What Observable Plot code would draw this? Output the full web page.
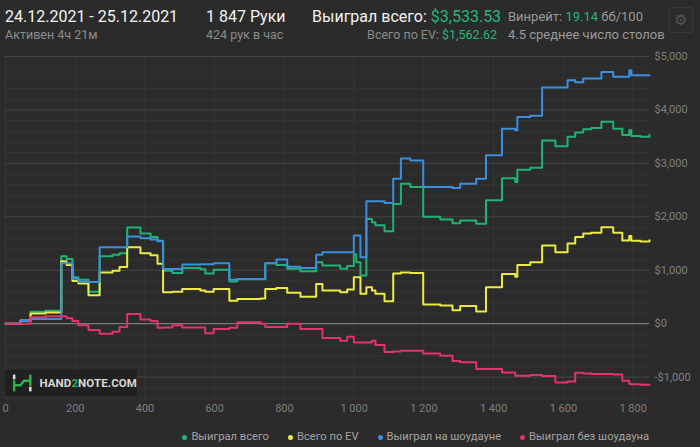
<!DOCTYPE html>
<html>
<head>
<meta charset="utf-8">
<script src="https://cdn.jsdelivr.net/npm/d3@7"></script>
<script src="https://cdn.jsdelivr.net/npm/@observablehq/plot@0.6"></script>
<style>
  html, body { margin: 0; padding: 0; }
  body { width: 700px; height: 447px; overflow: hidden; background: #2b2b2b; font-family: Roboto, "Noto Sans", sans-serif; position: relative; }
  .t { position: absolute; white-space: nowrap; }
  .big { font-size: 16px; color: #f2f2f2; line-height: 20px; top: 7px; }
  .small { font-size: 12.5px; color: #8c8c8c; line-height: 16px; top: 27px; }
  .mid { font-size: 13px; color: #9a9a9a; line-height: 16px; top: 9px; }
  .g { color: #22b97a; }
  #chart { position: absolute; left: 0; top: 44px; }
  #legend { position: absolute; right: 51px; top: 429px; display: flex; gap: 19px; font-size: 11.2px; color: #a3a3a3; line-height: 16px; }
  #legend .it { display: flex; align-items: center; }
  #legend .dot { width: 5px; height: 5px; border-radius: 50%; margin-right: 4px; }
  #gear { position: absolute; left: 669px; top: 7px; width: 24px; height: 26px; border: 1px solid #383838; border-radius: 2px; box-sizing: border-box; color: #555; font-size: 15px; line-height: 24px; text-align: center; font-family: "DejaVu Sans", sans-serif; }
  #wm { position: absolute; left: 5px; top: 370px; width: 132px; height: 26px; background: rgba(30,30,30,0.85); display: flex; align-items: center; }
  #wm span.txt { font-weight: bold; font-size: 11.5px; color: #d8d8d8; margin-left: 7px; letter-spacing: 0.1px; }
</style>
</head>
<body>
<div class="t big" style="left:5px">24.12.2021 - 25.12.2021</div>
<div class="t small" style="left:5px">Активен 4ч 21м</div>
<div class="t big" style="left:206px">1 847 Руки</div>
<div class="t small" style="left:206px">424 рук в час</div>
<div class="t big" style="left:312px">Выиграл всего: <span class="g">$3,533.53</span></div>
<div class="t small" style="right:203px">Всего по EV: <span class="g">$1,562.62</span></div>
<div class="t mid" style="left:508px">Винрейт: <span class="g">19.14</span> бб/100</div>
<div class="t small" style="left:508px;color:#9a9a9a;font-size:13px">4.5 среднее число столов</div>
<div id="gear">⚙</div>
<div id="chart"></div>
<div id="wm">
  <svg width="22" height="20" viewBox="0 0 22 20" style="margin-left:7px">
    <rect x="1" y="1" width="2.6" height="5" fill="#e6e6e6"/>
    <rect x="1" y="7" width="2.6" height="12" fill="#2fb34a"/>
    <path d="M2.3 12.5 H9 L13 7.5 H19.5" stroke="#2fb34a" stroke-width="2.6" fill="none"/>
    <rect x="18.4" y="1" width="2.6" height="12" fill="#2fb34a"/>
    <rect x="18.4" y="14" width="2.6" height="5" fill="#e6e6e6"/>
  </svg>
  <span class="txt">HAND<span style="color:#2fb34a">2</span>NOTE.COM</span>
</div>
<div id="legend"></div>
<script>
// ---- data ----
const hands = [0, 43, 72, 115, 160, 175, 192, 209, 238, 270, 307, 327, 349, 387, 416, 436, 452, 479, 507, 559, 573, 597, 642, 665, 731, 745, 777, 808, 846, 891, 909, 960, 980, 999, 1006, 1018, 1035, 1051, 1061, 1087, 1112, 1134, 1161, 1198, 1247, 1282, 1304, 1350, 1378, 1424, 1462, 1468, 1505, 1539, 1577, 1612, 1634, 1657, 1680, 1709, 1743, 1769, 1789, 1795, 1821, 1847];
const wonTotal = [0, 50, 225, 240, 1260, 1210, 870, 820, 600, 1260, 1290, 1320, 1800, 1690, 1620, 1550, 990, 950, 1040, 1020, 940, 1010, 790, 830, 830, 1130, 1100, 1030, 980, 1150, 1090, 1030, 1080, 1300, 1150, 900, 1960, 1900, 1840, 1730, 2240, 2620, 2560, 2000, 1950, 1880, 1930, 1870, 2310, 2720, 2650, 2880, 2920, 3430, 3320, 3500, 3580, 3640, 3660, 3780, 3650, 3530, 3620, 3510, 3500, 3534];
const evTotal = [0, 60, 190, 210, 1170, 1100, 800, 750, 530, 960, 990, 1060, 1430, 1320, 1280, 1120, 590, 600, 650, 620, 600, 650, 430, 460, 470, 650, 670, 580, 506, 744, 619, 590, 640, 870, 870, 562, 680, 620, 560, 420, 940, 960, 950, 360, 340, 250, 330, 230, 681, 931, 880, 1100, 1150, 1462, 1337, 1500, 1620, 1690, 1700, 1806, 1700, 1556, 1640, 1550, 1540, 1563];
const wonShowdown = [0, 56, 90, 90, 1130, 1130, 840, 790, 780, 1430, 1430, 1430, 1630, 1600, 1575, 1545, 1025, 1025, 1106, 1110, 1110, 1130, 820, 838, 838, 1130, 1200, 1065, 1040, 1290, 1337, 1337, 1337, 1650, 1650, 1245, 2290, 2290, 2290, 2260, 2710, 3090, 3056, 2556, 2556, 2540, 2620, 2710, 3150, 3650, 3620, 3870, 3890, 4420, 4420, 4556, 4520, 4590, 4590, 4712, 4619, 4619, 4744, 4650, 4650, 4650];
const wonNoShowdown = [0, 0, 120, 140, 140, 100, 50, -30, -120, -190, -150, -60, 180, 80, 50, -75, -70, -30, -70, -70, -180, -100, -75, 25, 0, -60, -60, 0, -100, -100, -270, -320, -244, -350, -350, -350, -350, -320, -400, -530, -520, -506, -506, -560, -600, -700, -720, -850, -850, -913, -975, -975, -960, -980, -1100, -1080, -920, -930, -940, -940, -950, -1069, -1130, -1131, -1144, -1144];

const seriesNames = ["Выиграл всего", "Всего по EV", "Выиграл на шоудауне", "Выиграл без шоудауна"];
const seriesColors = ["#1fb474", "#ecea45", "#3b8fdd", "#e2336c"];

const xTicks = [0, 200, 400, 600, 800, 1000, 1200, 1400, 1600, 1800];
const xTickLabels = ["0", "200", "400", "600", "800", "1 000", "1 200", "1 400", "1 600", "1 800"];
const yTicks = [-1000, 0, 1000, 2000, 3000, 4000, 5000];
const yTickLabels = ["-$1,000", "$0", "$1,000", "$2,000", "$3,000", "$4,000", "$5,000"];
const yMinor = [-1400, -1200, -800, -600, -400, -200, 200, 400, 600, 800, 1200, 1400, 1600, 1800, 2200, 2400, 2600, 2800, 3200, 3400, 3600, 3800, 4200, 4400, 4600, 4800];

// ---- build table ----
const valueArrays = [wonTotal, evTotal, wonShowdown, wonNoShowdown];
const rows = [];
valueArrays.forEach((arr, s) => {
  arr.forEach((v, i) => rows.push({hand: hands[i], value: v, series: seriesNames[s]}));
});

const chart = Plot.plot({
  width: 700,
  height: 380,
  marginLeft: 5,
  marginRight: 51,
  marginTop: 12,
  marginBottom: 26,
  style: {background: "transparent", color: "#8a8a8a", fontFamily: "Roboto, sans-serif", fontSize: "11px"},
  x: {domain: [0, 1847], label: null},
  y: {domain: [-1400, 5000], label: null},
  color: {domain: seriesNames, range: seriesColors},
  marks: [
    Plot.ruleY(yMinor, {stroke: "#343434", strokeWidth: 1}),
    Plot.ruleX(xTicks, {stroke: "#353535", strokeWidth: 1}),
    Plot.ruleY(yTicks.filter(d => d !== 0), {stroke: "#474747", strokeWidth: 1}),
    Plot.ruleY([0], {stroke: "#8e8e8e", strokeWidth: 1}),
    Plot.axisX(xTicks, {tickSize: 0, tickPadding: 6, tickFormat: d => xTickLabels[xTicks.indexOf(d)], fill: "#7e7e7e", label: null}),
    Plot.axisY(yTicks, {anchor: "right", tickSize: 0, tickPadding: 5, tickFormat: d => yTickLabels[yTicks.indexOf(d)], fill: "#808080", label: null}),
    Plot.line(rows, {x: "hand", y: "value", z: "series", stroke: "series", curve: "step-after", strokeWidth: 2})
  ]
});
document.getElementById("chart").appendChild(chart);

// legend
const lg = document.getElementById("legend");
seriesNames.forEach((n, i) => {
  const it = document.createElement("div");
  it.className = "it";
  it.innerHTML = `<span class="dot" style="background:${seriesColors[i]}"></span><span>${n}</span>`;
  lg.appendChild(it);
});
</script>
</body>
</html>
